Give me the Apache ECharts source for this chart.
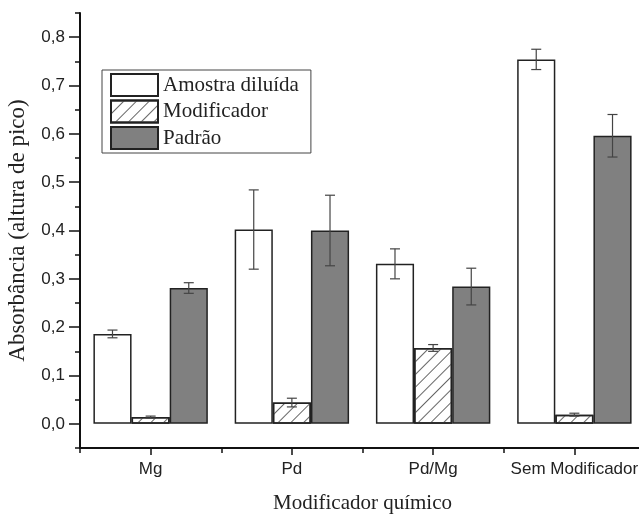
<!DOCTYPE html>
<html>
<head>
<meta charset="utf-8">
<script src="https://cdn.jsdelivr.net/npm/echarts@6/dist/echarts.min.js"></script>
<style>
  html, body { margin: 0; padding: 0; background: #fff; }
  #chart { width: 639px; height: 515px; }
</style>
</head>
<body>
<div id="chart"></div>
<script>
var categories = ['Mg', 'Pd', 'Pd/Mg', 'Sem Modificador']
var seriesNames = ['Amostra diluída', 'Modificador', 'Padrão']
// valores (altura de pico)
var amostra = [0.186, 0.402, 0.331, 0.754]
var amostraErr = [0.008, 0.082, 0.031, 0.021]
var modificador = [0.014, 0.044, 0.157, 0.019]
var modificadorErr = [0.002, 0.009, 0.007, 0.003]
var padrao = [0.281, 0.400, 0.284, 0.596]
var padraoErr = [0.011, 0.073, 0.038, 0.044]
var yLabelValues = [0, 0.1, 0.2, 0.3, 0.4, 0.5, 0.6, 0.7, 0.8]
var yMinorValues = [-0.05, 0.05, 0.15, 0.25, 0.35, 0.45, 0.55, 0.65, 0.75, 0.85]

var chart = echarts.init(document.getElementById('chart'))
var barGap = 0.19
var sans = 'Liberation Sans'
var serif = 'Liberation Serif'

function errorSeries(name, values, errs, k) {
    return {
        type: 'custom',
        name: name + ' erro',
        xAxisIndex: 0,
        z: 5,
        data: values.map(function(v, i) { return [i, v, errs[i]] }),
        renderItem: function(params, api) {
            var band = api.size([1, 0])[0]
            var barW = band * (1 - barGap) / 3
            var top = api.coord([api.value(0), api.value(1) + api.value(2)])
            var bot = api.coord([api.value(0), api.value(1) - api.value(2)])
            var x = top[0] + (k - 1) * barW
            var cap = 5
            var style = { stroke: '#444', lineWidth: 1.2 }
            return {
                type: 'group',
                children: [
                    { type: 'line', shape: { x1: x, y1: top[1], x2: x, y2: bot[1] }, style: style },
                    { type: 'line', shape: { x1: x - cap, y1: top[1], x2: x + cap, y2: top[1] }, style: style },
                    { type: 'line', shape: { x1: x - cap, y1: bot[1], x2: x + cap, y2: bot[1] }, style: style }
                ]
            }
        }
    }
}

var options = {
    animation: false,
    grid: { left: 80, top: 13, width: 565, height: 435, containLabel: false, outerBoundsMode: 'none' },
    legend: {
        data: seriesNames,
        orient: 'vertical',
        left: 102,
        top: 70,
        icon: 'rect',
        itemWidth: 47,
        itemHeight: 22,
        itemGap: 2.5,
        padding: [3, 12, 3, 8],
        borderColor: '#444',
        borderWidth: 1,
        textStyle: { fontFamily: serif, fontSize: 21, lineHeight: 22, color: '#222' }
    },
    xAxis: [{
        type: 'category',
        data: categories,
        boundaryGap: true,
        name: 'Modificador químico',
        nameLocation: 'middle',
        nameGap: 45,
        nameTextStyle: { fontFamily: serif, fontSize: 21, color: '#222' },
        axisLine: { onZero: false, lineStyle: { color: '#111', width: 2 } },
        axisTick: { show: true, length: 5, lineStyle: { color: '#111', width: 1.5 } },
        axisLabel: { interval: 0, hideOverlap: false, fontFamily: sans, fontSize: 17, color: '#222', margin: 13 }
    }, {
        type: 'category',
        data: categories,
        position: 'bottom',
        boundaryGap: true,
        axisLine: { show: false, onZero: false },
        axisTick: { show: true, alignWithLabel: true, interval: 0, length: 7, lineStyle: { color: '#111', width: 1.5 } },
        axisLabel: { show: false }
    }],
    yAxis: [{
        type: 'value',
        min: -0.05,
        max: 0.85,
        name: 'Absorbância (altura de pico)',
        nameLocation: 'middle',
        nameGap: 51,
        nameTextStyle: { fontFamily: serif, fontSize: 23, color: '#222' },
        axisLine: { show: true, lineStyle: { color: '#111', width: 2 } },
        axisTick: { show: true, length: 11, customValues: yLabelValues, lineStyle: { color: '#111', width: 1.5 } },
        axisLabel: {
            customValues: yLabelValues,
            fontFamily: sans, fontSize: 17, color: '#222', margin: 15,
            formatter: function(v) { return v.toFixed(1).replace('.', ',') }
        },
        splitLine: { show: false }
    }, {
        type: 'value',
        min: -0.05,
        max: 0.85,
        position: 'left',
        axisLine: { show: false },
        axisTick: { show: true, length: 5, customValues: yMinorValues, lineStyle: { color: '#111', width: 1.5 } },
        axisLabel: { show: false },
        splitLine: { show: false }
    }],
    series: [{
        type: 'bar',
        name: seriesNames[0],
        data: amostra,
        barGap: 0,
        barCategoryGap: (barGap * 100) + '%',
        itemStyle: { color: '#ffffff', borderColor: '#222', borderWidth: 1.5 }
    }, {
        type: 'bar',
        name: seriesNames[1],
        data: modificador,
        barGap: 0,
        barCategoryGap: (barGap * 100) + '%',
        itemStyle: {
            color: '#ffffff', borderColor: '#222', borderWidth: 1.5,
            decal: { symbol: 'rect', symbolSize: 1, color: '#666', dashArrayX: [1, 0], dashArrayY: [1, 8], rotation: -Math.PI / 4 }
        }
    }, {
        type: 'bar',
        name: seriesNames[2],
        data: padrao,
        barGap: 0,
        barCategoryGap: (barGap * 100) + '%',
        itemStyle: { color: '#808080', borderColor: '#222', borderWidth: 1.5 }
    },
        errorSeries(seriesNames[0], amostra, amostraErr, 0),
        errorSeries(seriesNames[1], modificador, modificadorErr, 1),
        errorSeries(seriesNames[2], padrao, padraoErr, 2)
    ]
}

chart.setOption(options)
</script>
</body>
</html>
